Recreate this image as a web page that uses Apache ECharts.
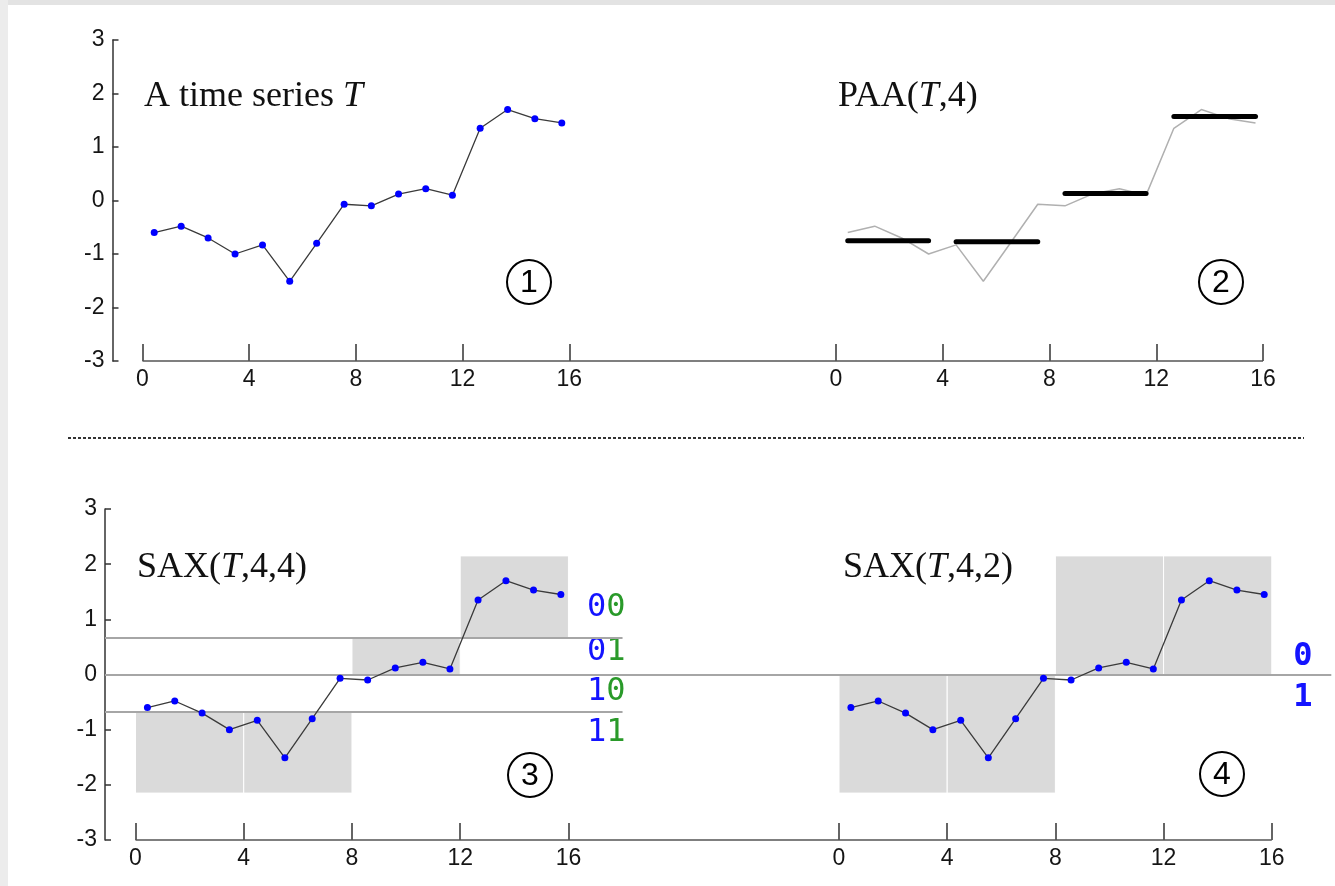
<!DOCTYPE html>
<html>
<head>
<meta charset="utf-8">
<script src="https://cdn.jsdelivr.net/npm/echarts@6/dist/echarts.min.js"></script>
<style>
html, body { margin: 0; padding: 0; background: #fff; }
#main { width: 1335px; height: 886px; }
</style>
</head>
<body>
<div id="main"></div>
<script>
// time series T (x positions and values)
var xPos = [0.44, 1.45, 2.46, 3.47, 4.5, 5.52, 6.53, 7.56, 8.58, 9.6, 10.62, 11.62, 12.66, 13.69, 14.71, 15.72];
var tValues = [-0.60, -0.48, -0.70, -1.00, -0.83, -1.51, -0.80, -0.07, -0.10, 0.12, 0.22, 0.10, 1.35, 1.70, 1.53, 1.45];

// PAA(T,4) segments
var paaFrom = [0.44, 4.5, 8.58, 12.66];
var paaTo = [3.47, 7.56, 11.62, 15.72];
var paaValue = [-0.75, -0.77, 0.13, 1.57];

// SAX boxes
var segStart = [0, 4, 8, 12];
var segEnd = [4, 8, 12, 16];
var sax4Low = [-2.15, -2.15, 0, 0.67];
var sax4High = [-0.67, -0.67, 0.67, 2.15];
var sax2Low = [-2.15, -2.15, 0, 0];
var sax2High = [0, 0, 2.15, 2.15];
var breakpoints4 = [-0.67, 0.67];

var xTicks = [0, 4, 8, 12, 16];
var titles = ['{n|A time series }{i|T}', '{n|PAA(}{i|T}{n|,4)}', '{n|SAX(}{i|T}{n|,4,4)}', '{n|SAX(}{i|T}{n|,4,2)}'];
var bits4 = [['0', '0'], ['0', '1'], ['1', '0'], ['1', '1']];
var bits2 = ['0', '1'];
var panelNo = ['1', '2', '3', '4'];

var myChart = echarts.init(document.getElementById('main'));

var seriesPts = xPos.map(function (x, i) { return [x, tValues[i]]; });
var paaData = paaFrom.map(function (x, i) { return [x, paaTo[i], paaValue[i]]; });
var sax4Data = segStart.map(function (x, i) { return [x, segEnd[i], sax4Low[i], sax4High[i]]; });
var sax2Data = segStart.map(function (x, i) { return [x, segEnd[i], sax2Low[i], sax2High[i]]; });

var labelFont = { fontFamily: 'Liberation Sans', fontSize: 23, color: '#151515' };

function xAxisFor(grid, min, max) {
    return {
        type: 'value', gridIndex: grid, min: min, max: max,
        axisLine: { show: false, onZero: false },
        splitLine: { show: false },
        axisTick: { show: true, inside: true, length: 17, customValues: xTicks,
            lineStyle: { color: '#333', width: 1.5 } },
        axisLabel: Object.assign({ customValues: xTicks, margin: 7 }, labelFont)
    };
}
function yAxisFor(grid, visible) {
    return {
        type: 'value', gridIndex: grid, min: -3, max: 3, interval: 1, show: visible,
        axisLine: { show: true, onZero: false, lineStyle: { color: '#333', width: 1.5 } },
        axisTick: { show: true, inside: true, length: 6, lineStyle: { color: '#333', width: 1.5 } },
        splitLine: { show: false },
        axisLabel: Object.assign({ margin: 8 }, labelFont)
    };
}
function axisLineMark(xEnd) {
    return [{ coord: [0, -3], lineStyle: { color: '#555', width: 1.5, type: 'solid' } }, { coord: [xEnd, -3] }];
}
function tSeries(idx, extraMarks) {
    return {
        type: 'line', xAxisIndex: idx, yAxisIndex: idx, z: 5,
        data: seriesPts,
        symbol: 'circle', symbolSize: 7, showSymbol: true,
        itemStyle: { color: '#0000ff' },
        lineStyle: { color: '#3a3a3a', width: 1.3 },
        markLine: {
            silent: true, symbol: ['none', 'none'], label: { show: false },
            lineStyle: { color: '#a6a6a6', width: 2, type: 'solid' },
            data: extraMarks
        }
    };
}
function boxSeries(idx, data) {
    return {
        type: 'custom', xAxisIndex: idx, yAxisIndex: idx, z: 1,
        data: data,
        encode: { x: [0, 1], y: [2, 3] },
        renderItem: function (params, api) {
            var p0 = api.coord([api.value(0), api.value(3)]);
            var p1 = api.coord([api.value(1), api.value(2)]);
            return {
                type: 'rect',
                shape: { x: p0[0], y: p0[1], width: p1[0] - p0[0], height: p1[1] - p0[1] },
                style: { fill: '#dadada', stroke: '#ffffff', lineWidth: 1 }
            };
        }
    };
}

var bp4Marks = breakpoints4.map(function (b) {
    return [{ coord: [-1.128, b] }, { coord: [18, b] }];
});

option = {
    animation: false,
    backgroundColor: '#ffffff',
    title: [
        { left: 144, top: 77 }, { left: 838, top: 77 },
        { left: 137, top: 548 }, { left: 843, top: 548 }
    ].map(function (p, i) {
        return {
            text: titles[i], left: p.left, top: p.top, padding: 0,
            textStyle: {
                fontWeight: 'normal',
                rich: {
                    n: { fontFamily: 'Liberation Serif', fontSize: 36, fontWeight: 'normal', color: '#111', lineHeight: 40 },
                    i: { fontFamily: 'Liberation Serif', fontSize: 36, fontWeight: 'normal', fontStyle: 'italic', color: '#111', lineHeight: 40 }
                }
            }
        };
    }),
    grid: [
        { left: 112.5, top: 40, width: 723.5, height: 321, outerBoundsMode: 'none' },
        { left: 836, top: 40, width: 427, height: 321, outerBoundsMode: 'none' },
        { left: 105, top: 509, width: 734, height: 331, outerBoundsMode: 'none' },
        { left: 839, top: 509, width: 492.3, height: 331, outerBoundsMode: 'none' }
    ],
    xAxis: [
        xAxisFor(0, -1.124, 26),
        xAxisFor(1, 0, 16),
        xAxisFor(2, -1.128, 26),
        xAxisFor(3, 0, 18.2)
    ],
    yAxis: [yAxisFor(0, true), yAxisFor(1, false), yAxisFor(2, true), yAxisFor(3, false)],
    series: [
        // 1: time series
        tSeries(0, [axisLineMark(26)]),
        // 2: PAA
        {
            type: 'line', xAxisIndex: 1, yAxisIndex: 1, z: 2,
            data: seriesPts, showSymbol: false, symbol: 'none',
            lineStyle: { color: '#b0b0b0', width: 1.5 },
            markLine: {
                silent: true, symbol: ['none', 'none'], label: { show: false },
                data: [axisLineMark(16)]
            }
        },
        {
            type: 'custom', xAxisIndex: 1, yAxisIndex: 1, z: 4,
            data: paaData,
            encode: { x: [0, 1], y: 2 },
            renderItem: function (params, api) {
                var a = api.coord([api.value(0), api.value(2)]);
                var b = api.coord([api.value(1), api.value(2)]);
                return {
                    type: 'line',
                    shape: { x1: a[0], y1: a[1], x2: b[0], y2: b[1] },
                    style: { stroke: '#000', lineWidth: 5, lineCap: 'round' }
                };
            }
        },
        // 3: SAX(T,4,4)
        boxSeries(2, sax4Data),
        tSeries(2, [{ yAxis: 0 }].concat(bp4Marks).concat([axisLineMark(26)])),
        // 4: SAX(T,4,2)
        boxSeries(3, sax2Data),
        tSeries(3, [{ yAxis: 0 }, axisLineMark(16)])
    ],
    graphic: [
        { type: 'rect', shape: { x: 0, y: 0, width: 1335, height: 5 }, style: { fill: '#e3e3e3' }, silent: true },
        { type: 'rect', shape: { x: 0, y: 0, width: 8, height: 886 }, style: { fill: '#ececec' }, silent: true },
        { type: 'line', shape: { x1: 68, y1: 438, x2: 1304, y2: 438 },
          style: { stroke: '#333', lineWidth: 2, lineDash: [3, 2] }, silent: true }
    ]
};

// circled panel numbers
[[529, 282], [1221, 282], [530, 775], [1222, 774]].forEach(function (c, i) {
    option.graphic.push({ type: 'circle', shape: { cx: c[0], cy: c[1], r: 22 },
        style: { fill: 'none', stroke: '#000', lineWidth: 2 }, silent: true });
    option.graphic.push({ type: 'text', x: c[0], y: c[1] + 1,
        style: { text: panelNo[i], fontFamily: 'Liberation Sans', fontSize: 32, fill: '#000',
            align: 'center', verticalAlign: 'middle' }, silent: true });
});

// SAX symbols
var bitRich = {
    b: { fill: '#1414ff', color: '#1414ff', fontFamily: 'DejaVu Sans Mono', fontSize: 32 },
    g: { fill: '#2a9a2a', color: '#2a9a2a', fontFamily: 'DejaVu Sans Mono', fontSize: 32 }
};
[608, 652, 692, 733].forEach(function (y, i) {
    option.graphic.push({ type: 'text', x: 587, y: y,
        style: { text: '{b|' + bits4[i][0] + '}{g|' + bits4[i][1] + '}', rich: bitRich,
            verticalAlign: 'middle' }, silent: true });
});
[657, 698].forEach(function (y, i) {
    option.graphic.push({ type: 'text', x: 1303, y: y,
        style: { text: bits2[i], fontFamily: 'DejaVu Sans Mono', fontSize: 32, fontWeight: 'bold',
            fill: '#1414ff', align: 'center', verticalAlign: 'middle' }, silent: true });
});

myChart.setOption(option);
</script>
</body>
</html>
